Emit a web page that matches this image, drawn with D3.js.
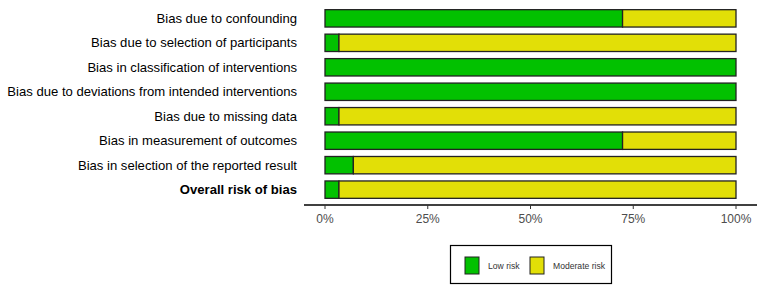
<!DOCTYPE html>
<meta charset="utf-8">
<style>
  body { margin: 0; background: white; }
  text { font-family: "Liberation Sans", Arial, sans-serif; }
</style>
<script src="https://d3js.org/d3.v7.min.js"></script>
<div id="chart"></div>
<script>
// domains and their share of studies at low risk (%)
var domains = [
  "Bias due to confounding",
  "Bias due to selection of participants",
  "Bias in classification of interventions",
  "Bias due to deviations from intended interventions",
  "Bias due to missing data",
  "Bias in measurement of outcomes",
  "Bias in selection of the reported result",
  "Overall risk of bias"
];
var lowRisk      = [72.4, 3.4, 100, 100, 3.4, 72.4, 6.9, 3.4];
var moderateRisk = [27.6, 96.6, 0, 0, 96.6, 27.6, 93.1, 96.6];
var tickValues = [0, 25, 50, 75, 100];
var legendLabels = ["Low risk", "Moderate risk"];
var colors = ["#02C100", "#E2DF07"];

var width = 764, height = 291;
var svg = d3.select("#chart").append("svg")
    .attr("width", width)
    .attr("height", height);

var x = d3.scaleLinear().domain([0, 100]).range([325, 736]);
var y = d3.scaleBand().domain(domains).range([6, 202]).paddingInner(0.29).paddingOuter(0.15);

// stacked rows
var rows = domains.map(function(d, i) {
  return {name: d, parts: [
    {k: 0, x0: 0, x1: lowRisk[i]},
    {k: 1, x0: lowRisk[i], x1: lowRisk[i] + moderateRisk[i]}
  ]};
});

var g = svg.selectAll("g.row")
  .data(rows)
  .enter().append("g")
    .attr("class", "row");

g.selectAll("rect")
  .data(function(d) { return d.parts.filter(function(p) { return p.x1 > p.x0; }); })
  .enter().append("rect")
    .attr("x", function(p) { return x(p.x0); })
    .attr("width", function(p) { return x(p.x1) - x(p.x0); })
    .attr("y", function(p) { return y(d3.select(this.parentNode).datum().name); })
    .attr("height", y.bandwidth())
    .style("fill", function(p) { return colors[p.k]; })
    .style("stroke", "#222")
    .style("stroke-width", 1.3);

// row labels
svg.selectAll("text.lab")
  .data(domains)
  .enter().append("text")
    .attr("class", "lab")
    .attr("x", 297)
    .attr("y", function(d) { return y(d) + y.bandwidth() / 2; })
    .attr("dy", "0.35em")
    .attr("text-anchor", "end")
    .attr("font-size", "13.1px")
    .attr("font-weight", function(d, i) { return i == domains.length - 1 ? "bold" : "normal"; })
    .attr("fill", "black")
    .text(function(d) { return d; });

// x axis
var axis = svg.append("g").attr("transform", "translate(0,205)");
axis.append("line")
  .attr("x1", 304).attr("x2", 757)
  .attr("stroke", "black").attr("stroke-width", 1.4);
axis.selectAll("line.tick")
  .data(tickValues)
  .enter().append("line")
    .attr("class", "tick")
    .attr("x1", function(d) { return x(d); })
    .attr("x2", function(d) { return x(d); })
    .attr("y1", 0).attr("y2", 4)
    .attr("stroke", "#333");
axis.selectAll("text")
  .data(tickValues)
  .enter().append("text")
    .attr("x", function(d) { return x(d); })
    .attr("y", 18)
    .attr("text-anchor", "middle")
    .attr("font-size", "12px")
    .attr("fill", "#4d4d4d")
    .text(function(d) { return d + "%"; });

// legend
var legend = svg.append("g");
legend.append("rect")
  .attr("x", 450.5).attr("y", 245.5)
  .attr("width", 161).attr("height", 38)
  .attr("fill", "white").attr("stroke", "black").attr("stroke-width", 1.2);
var li = legend.selectAll("g.item")
  .data(legendLabels)
  .enter().append("g")
    .attr("class", "item")
    .attr("transform", function(d, i) { return "translate(" + [465, 530][i] + ",257)"; });
li.append("rect")
  .attr("width", 14).attr("height", 17)
  .attr("fill", function(d, i) { return colors[i]; })
  .attr("stroke", "#222");
li.append("text")
  .attr("x", 23).attr("y", 8.5)
  .attr("dy", "0.35em")
  .attr("font-size", "8.6px")
  .attr("fill", "#333")
  .text(function(d) { return d; });
</script>
